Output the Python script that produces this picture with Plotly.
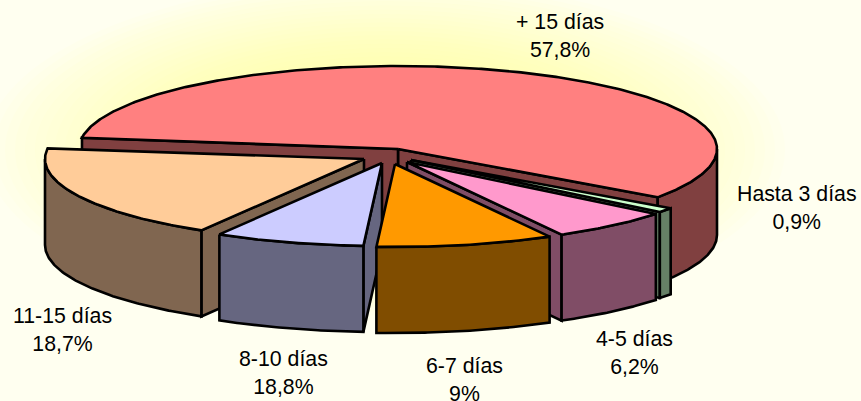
import numpy as np
import plotly.graph_objects as go

# Data
categories = ["+ 15 días", "Hasta 3 días", "4-5 días", "11-15 días", "8-10 días", "6-7 días"]
plotted_shares = [57.8, 0.9, 6.2, 18.7, 7.6, 9.0]  # drawn size of each slice
printed_labels = ["57,8%", "0,9%", "6,2%", "18,7%", "18,8%", "9%"]  # as printed on the chart

# Order around the pie, counter-clockwise, starting at the right-front cut of "+ 15 días"
ring_order = ["+ 15 días", "11-15 días", "8-10 días", "6-7 días", "4-5 días", "Hasta 3 días"]

# Style and layout
top_colors = {"+ 15 días": "#ff8080", "Hasta 3 días": "#ccffcc", "4-5 días": "#ff99cc",
              "11-15 días": "#ffcc99", "8-10 días": "#ccccff", "6-7 días": "#ff9900"}
side_colors = {"+ 15 días": "#804040", "Hasta 3 días": "#668066", "4-5 días": "#804d66",
               "11-15 días": "#806650", "8-10 días": "#666680", "6-7 días": "#804d00"}
apex = {"+ 15 días": (398, 149), "Hasta 3 días": (411, 160), "4-5 días": (407, 162),
        "11-15 días": (364, 159), "8-10 días": (382, 163), "6-7 días": (395, 164)}
label_pos = {"+ 15 días": (560, 36), "Hasta 3 días": (797, 208), "4-5 días": (634, 353),
             "11-15 días": (62, 330), "8-10 días": (283, 373), "6-7 días": (464, 380)}
RX, RY, DEPTH, START_ANGLE = 319, 83, 86, -35.5
FONT = "Liberation Sans, Arial, sans-serif"

fig = go.Figure()


def poly(xs, ys, color):
    fig.add_trace(go.Scatter(x=xs, y=ys, mode="lines", fill="toself", fillcolor=color,
                             line=dict(color="black", width=2.6), hoverinfo="skip",
                             showlegend=False))


def rim(cx, cy, a0, a1, drop=0.0):
    t = np.radians(np.linspace(a0, a1, max(3, int(abs(a1 - a0) * 2))))
    return cx + RX * np.cos(t), cy - RY * np.sin(t) + drop


# Angular span of each slice
share = dict(zip(categories, plotted_shares))
total = sum(plotted_shares)
span = {}
a = START_ANGLE
for name in ring_order:
    span[name] = (a, a + 360 * share[name] / total)
    a = span[name][1]


def draw_slice(name):
    cx, cy = apex[name]
    a0, a1 = span[name]
    side, top = side_colors[name], top_colors[name]
    # cut faces: only those turned towards the viewer
    for ang, normal in ((a0, a0 - 90), (a1, a1 + 90)):
        if np.sin(np.radians(normal)) < 0:
            ex, ey = rim(cx, cy, ang, ang)
            ex, ey = ex[0], ey[0]
            poly([cx, ex, ex, cx, cx], [cy, ey, ey + DEPTH, cy + DEPTH, cy], side)
    # outer wall: only the front-facing part of the rim
    for lo, hi in ((180, 360), (-180, 0)):
        w0, w1 = max(a0, lo), min(a1, hi)
        if w1 > w0:
            x1, y1 = rim(cx, cy, w0, w1)
            x2, y2 = rim(cx, cy, w1, w0, DEPTH)
            poly(np.r_[x1, x2, x1[0]], np.r_[y1, y2, y1[0]], side)
    # top face
    xt, yt = rim(cx, cy, a0, a1)
    poly(np.r_[cx, xt, cx], np.r_[cy, yt, cy], top)


for name in ["+ 15 días", "Hasta 3 días", "4-5 días", "11-15 días", "8-10 días", "6-7 días"]:
    draw_slice(name)

for name, pct in zip(categories, printed_labels):
    x, y = label_pos[name]
    fig.add_annotation(x=x, y=y, text=f"{name}<br>{pct}", showarrow=False, align="center",
                       font=dict(family=FONT, size=21.3, color="black"))

# Soft yellow glow behind the pie
STEPS = 40
shapes = []
for i in range(STEPS):
    f = 1 - i / STEPS
    rx, ry = 400 * f, 170 * f
    shapes.append(dict(type="circle", xref="x", yref="y", layer="below",
                       x0=385 - rx, x1=385 + rx, y0=150 - ry, y1=150 + ry,
                       fillcolor="rgba(255,255,120,0.03)", line=dict(width=0)))

fig.update_layout(width=861, height=401, autosize=False, margin=dict(l=0, r=0, t=0, b=0),
                  paper_bgcolor="#fffff0", plot_bgcolor="rgba(0,0,0,0)", shapes=shapes,
                  xaxis=dict(range=[0, 861], visible=False, fixedrange=True),
                  yaxis=dict(range=[401, 0], visible=False, fixedrange=True))

fig.write_html("out.html", config=dict(displayModeBar=False),
               post_script="document.body.style.margin='0';")
